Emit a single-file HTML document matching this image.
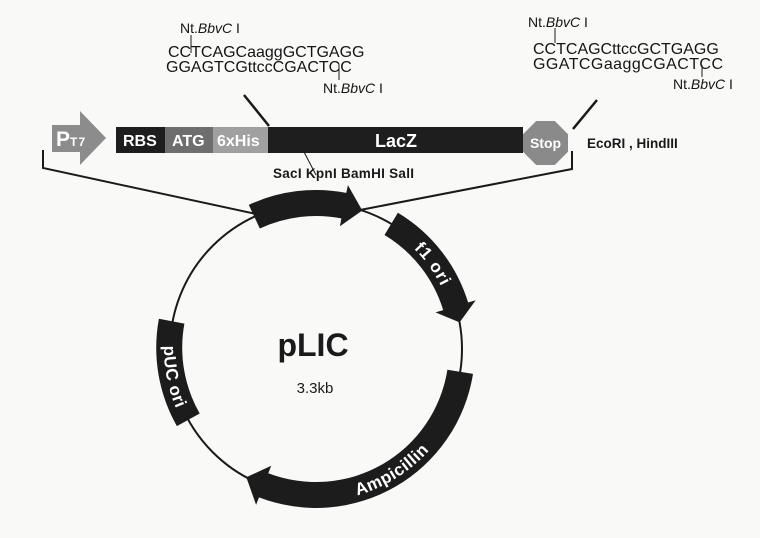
<!DOCTYPE html>
<html><head><meta charset="utf-8"><style>
html,body{margin:0;padding:0;background:#f9f9f8;}
svg{display:block;}
text{font-family:"Liberation Sans",Arial,sans-serif;}
</style></head><body>
<svg width="760" height="538" viewBox="0 0 760 538" xmlns="http://www.w3.org/2000/svg">
<rect width="760" height="538" fill="#f9f9f8"/>

<!-- sequences left -->
<g fill="#151515">
<text x="180" y="33" font-size="14">Nt.<tspan font-style="italic">BbvC</tspan> I</text>
<text x="168" y="57" font-size="16">CCTCAGCaaggGCTGAGG</text>
<text x="166" y="72" font-size="16">GGAGTCGttccCGACTCC</text>
<text x="323" y="93" font-size="14">Nt.<tspan font-style="italic">BbvC</tspan> I</text>
</g>
<line x1="191" y1="35" x2="191" y2="53" stroke="#1a1a1a" stroke-width="1"/>
<line x1="339" y1="64" x2="339" y2="80" stroke="#1a1a1a" stroke-width="1"/>

<!-- sequences right -->
<g fill="#151515">
<text x="528" y="27" font-size="14">Nt.<tspan font-style="italic">BbvC</tspan> I</text>
<text x="533" y="54" font-size="16">CCTCAGCttccGCTGAGG</text>
<text x="533" y="69" font-size="16" textLength="190">GGATCGaaggCGACTCC</text>
<text x="673" y="89" font-size="14">Nt.<tspan font-style="italic">BbvC</tspan> I</text>
</g>
<line x1="555" y1="28" x2="555" y2="43" stroke="#1a1a1a" stroke-width="1"/>
<line x1="702" y1="65" x2="702" y2="77" stroke="#1a1a1a" stroke-width="1"/>

<!-- diagonal pointers -->
<line x1="244" y1="95" x2="269" y2="126" stroke="#1a1a1a" stroke-width="2.5"/>
<line x1="597" y1="100" x2="573" y2="129" stroke="#1a1a1a" stroke-width="2.5"/>

<!-- PT7 arrow -->
<polygon points="52,125 80,125 80,111 106,138 80,165 80,152 52,152" fill="#8c8c8c"/>
<text x="56" y="146" font-size="21" font-weight="bold" fill="#fff">P</text>
<text x="70" y="146" font-size="12" font-weight="bold" fill="#fff" letter-spacing="1.2">T7</text>

<!-- bar -->
<rect x="116" y="127" width="49" height="26" fill="#1e1e1e"/>
<rect x="165" y="127" width="48" height="26" fill="#6e6e6e"/>
<rect x="213" y="127" width="55" height="26" fill="#a0a0a0"/>
<rect x="268" y="127" width="255" height="26" fill="#1e1e1e"/>
<g font-weight="bold" fill="#fff">
<text x="123" y="146" font-size="16">RBS</text>
<text x="172" y="146" font-size="16">ATG</text>
<text x="217" y="146" font-size="16">6xHis</text>
<text x="375" y="147" font-size="18">LacZ</text>
</g>

<!-- stop octagon -->
<polygon points="536.2,121 554.8,121 568,134.2 568,151.8 554.8,165 536.2,165 523,151.8 523,134.2" fill="#8a8a8a"/>
<text x="545.5" y="148" font-size="14" font-weight="bold" fill="#fff" text-anchor="middle">Stop</text>

<text x="587" y="148" font-size="13.5" font-weight="bold" fill="#1a1a1a">EcoRI , HindIII</text>

<!-- MCS -->
<line x1="303" y1="150" x2="316" y2="175" stroke="#1a1a1a" stroke-width="1"/>
<text x="273" y="178" font-size="13.5" font-weight="bold" fill="#1a1a1a" textLength="141">SacI KpnI BamHI  SalI</text>

<!-- bracket lines -->
<polyline points="43,150 43,168 256,214" fill="none" stroke="#1a1a1a" stroke-width="2"/>
<polyline points="572,151 572,169 360,210" fill="none" stroke="#1a1a1a" stroke-width="2"/>

<!-- plasmid circle -->
<circle cx="316" cy="349" r="146" fill="none" stroke="#1a1a1a" stroke-width="2"/>

<g fill="#1c1c1c">
<!-- top lacZ arrow -->
<path d="M248.8,204.9 A159,159 0 0 1 346.3,192.9 L347.9,185.1 L362.3,210.5 L339.9,226.3 L341.4,218.4 A133,133 0 0 0 259.8,228.5 Z"/>
<!-- f1 ori -->
<path d="M397.9,212.7 A159,159 0 0 1 468.1,302.5 L475.7,300.2 L459.6,322.4 L435.5,312.4 L443.2,310.1 A133,133 0 0 0 384.5,235.0 Z"/>
<!-- Ampicillin -->
<path d="M473.0,373.9 A159,159 0 0 1 259.0,497.4 L256.1,504.9 L246.3,477.3 L271.2,465.7 L268.3,473.2 A133,133 0 0 0 447.4,369.8 Z"/>
<!-- pUC ori -->
<path d="M176.9,426.1 A159,159 0 0 1 158.9,318.7 L184.4,323.6 A133,133 0 0 0 199.7,413.5 Z"/>
</g>

<defs>
<path id="pf1" d="M398.3,235.7 A140,140 0 0 1 449.2,305.7"/>
<path id="pamp" d="M342.4,498.7 A152,152 0 0 0 439.0,438.3"/>
<path id="ppuc" d="M167.9,314.8 A152,152 0 0 0 191.5,436.2"/>
</defs>
<g font-weight="bold" fill="#fff" font-size="17">
<text letter-spacing="1"><textPath href="#pf1" startOffset="50%" text-anchor="middle">f1 ori</textPath></text>
<text letter-spacing="0.5"><textPath href="#pamp" startOffset="50%" text-anchor="middle">Ampicillin</textPath></text>
<text letter-spacing="0.5"><textPath href="#ppuc" startOffset="50%" text-anchor="middle">pUC ori</textPath></text>
</g>

<!-- center labels -->
<text x="313" y="356" font-size="32" font-weight="bold" fill="#1a1a1a" text-anchor="middle">pLIC</text>
<text x="315" y="393" font-size="15" fill="#1a1a1a" text-anchor="middle">3.3kb</text>
</svg>
</body></html>
